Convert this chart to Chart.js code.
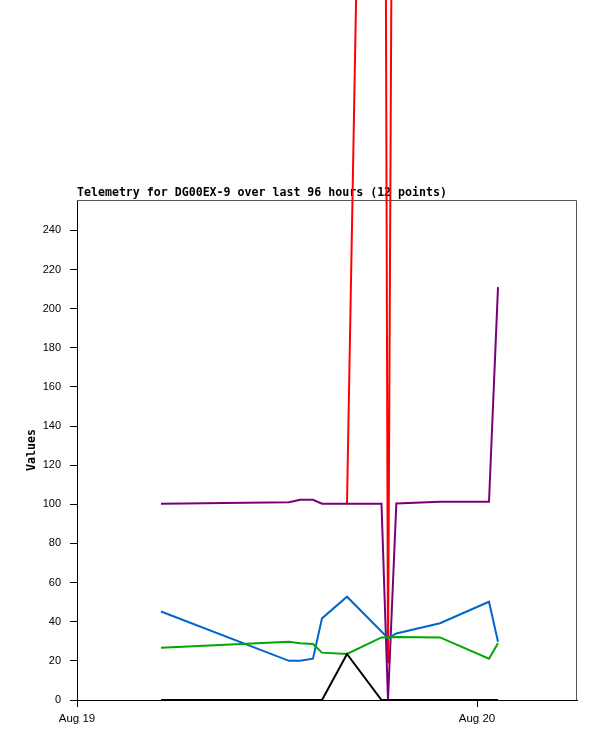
<!DOCTYPE html>
<html>
<head>
<meta charset="utf-8">
<script src="https://cdn.jsdelivr.net/npm/chart.js@4.4.1/dist/chart.umd.min.js"></script>
<style>
  html, body { margin: 0; padding: 0; background: #fff; }
  #wrap { width: 597px; height: 741px; position: relative; }
</style>
</head>
<body>
<div id="wrap"><canvas id="c" width="597" height="741"></canvas></div>
<script>
// Hours since Aug 19 00:00 for each of the 12 telemetry samples
const sampleHours = [5.04, 12.72, 13.38, 14.16, 14.70, 16.20, 18.27, 18.66, 19.16, 21.78, 24.72, 25.26];

// Series values
const seriesBlue   = [45.2, 20.0, 20.0, 21.1, 41.7, 52.8, 35.0, 31.5, 34.0, 39.2, 50.2, 29.8];
const seriesGreen  = [26.7, 29.8, 29.0, 28.6, 24.2, 23.5, 32.0, 32.0, 32.2, 32.0, 21.1, 29.0];
const seriesPurple = [100.3, 101.0, 102.3, 102.3, 100.3, 100.3, 100.3, 0.0, 100.4, 101.3, 101.3, 211.0];
const seriesBlack  = [0, 0, 0, 0, 0, 23.5, 0, 0, 0, 0, 0, 0];
const seriesRed    = [null, null, null, null, null, 100.3, 1080, 18.8, 870, 990, 1010, 1000];

// Axis ticks
const xTickHours  = [0, 24];
const xTickLabels = ['Aug 19', 'Aug 20'];
const yTickValues = [0, 20, 40, 60, 80, 100, 120, 140, 160, 180, 200, 220, 240];

const titleText = 'Telemetry for DG00EX-9 over last 96 hours (12 points)';
const yAxisTitle = 'Values';

function pts(vals) {
  return sampleHours.map((h, i) => ({ x: h, y: vals[i] }));
}

const mono = "'DejaVu Sans Mono', monospace";
const sans = "'Liberation Sans', Arial, sans-serif";

const frame = {
  id: 'frame',
  beforeDatasetsDraw(chart) {
    const a = chart.chartArea, ctx = chart.ctx;
    ctx.save();
    ctx.strokeStyle = '#555';
    ctx.lineWidth = 1;
    ctx.beginPath();
    ctx.moveTo(a.left, a.top + 0.5);
    ctx.lineTo(a.right - 0.5, a.top + 0.5);
    ctx.lineTo(a.right - 0.5, a.bottom);
    ctx.stroke();
    ctx.restore();
  }
};

const ds = (label, vals, color) => ({
  label, data: pts(vals), borderColor: color, backgroundColor: color,
  borderWidth: 2, pointRadius: 0, tension: 0, clip: false, spanGaps: false,
  borderJoinStyle: 'miter'
});

new Chart(document.getElementById('c'), {
  type: 'line',
  data: {
    datasets: [
      ds('black', seriesBlack, '#000000'),
      ds('green', seriesGreen, '#00a800'),
      ds('blue', seriesBlue, '#0066cc'),
      ds('purple', seriesPurple, '#780078'),
      ds('red', seriesRed, '#ff0000')
    ]
  },
  options: {
    responsive: false,
    animation: false,
    devicePixelRatio: 1,
    layout: { padding: { top: 0, right: 20, bottom: 0, left: 0 } },
    plugins: {
      legend: { display: false },
      tooltip: { enabled: false },
      title: {
        display: true,
        text: titleText,
        align: 'start',
        fullSize: false,
        color: '#000',
        font: { family: mono, size: 11.6, weight: 'bold', lineHeight: 1.0 },
        padding: { top: 187, bottom: 1.4 }
      }
    },
    scales: {
      x: {
        type: 'linear',
        min: 0, max: 30,
        afterBuildTicks(s) { s.ticks = xTickHours.map(v => ({ value: v })); },
        afterFit(s) { s.height = 41; },
        grid: { drawOnChartArea: false, drawTicks: true, tickLength: 7, color: '#000' },
        border: { display: true, color: '#000', width: 1 },
        ticks: {
          color: '#000', padding: 5, maxRotation: 0, autoSkip: false,
          font: { family: sans, size: 11.5 },
          callback(v) { const i = xTickHours.indexOf(v); return i >= 0 ? xTickLabels[i] : ''; }
        }
      },
      y: {
        type: 'linear',
        min: 0, max: 255.5,
        afterBuildTicks(s) { s.ticks = yTickValues.map(v => ({ value: v })); },
        afterFit(s) { s.width = 77; },
        grid: { drawOnChartArea: false, drawTicks: true, tickLength: 7, color: '#000' },
        border: { display: true, color: '#000', width: 1 },
        title: {
          display: true, text: yAxisTitle, color: '#000',
          font: { family: mono, size: 11.6, weight: 'bold' },
          padding: { top: 25, bottom: 0 }
        },
        ticks: {
          color: '#000', padding: 9, autoSkip: false,
          font: { family: sans, size: 11 },
          callback(v) { return String(v); }
        }
      }
    }
  },
  plugins: [frame]
});
</script>
</body>
</html>
